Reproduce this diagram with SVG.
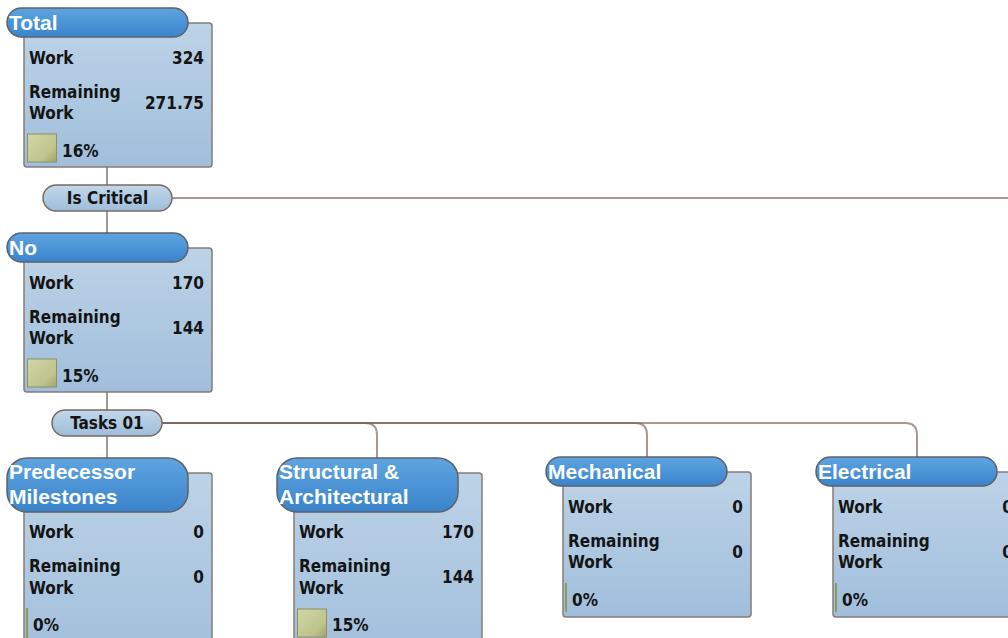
<svg xmlns="http://www.w3.org/2000/svg" width="1008" height="638" viewBox="0 0 1008 638">
<defs>
<linearGradient id="gBody" x1="0" y1="0" x2="0" y2="1">
<stop offset="0" stop-color="#bdd3e7"/>
<stop offset="1" stop-color="#a0bedb"/>
</linearGradient>
<linearGradient id="gHead" x1="0" y1="0" x2="0" y2="1">
<stop offset="0" stop-color="#5ea4e0"/>
<stop offset="1" stop-color="#3a84cc"/>
</linearGradient>
<linearGradient id="gPill" x1="0" y1="0" x2="0" y2="1">
<stop offset="0" stop-color="#c2d7ea"/>
<stop offset="1" stop-color="#9ebdda"/>
</linearGradient>
<linearGradient id="gBar" x1="0" y1="0" x2="1" y2="1">
<stop offset="0" stop-color="#d2d6a6"/>
<stop offset="0.7" stop-color="#bfc48d"/>
<stop offset="1" stop-color="#9ea36c"/>
</linearGradient>
</defs>
<style>
.body{fill:url(#gBody);stroke:#857c78;stroke-width:1.5}
.head{fill:url(#gHead);stroke:#5f6068;stroke-width:1.5}
.pill{fill:url(#gPill);stroke:#776a66;stroke-width:1.5}
.bar{fill:url(#gBar);stroke:#8c9062;stroke-width:1}
.bar0{fill:#8a9a5a}
.h{font-family:"Liberation Sans",Arial,sans-serif;font-weight:bold;font-size:21px;fill:#ffffff}
.t,.v,.c{font-family:"DejaVu Sans Condensed","DejaVu Sans",Verdana,sans-serif;font-stretch:condensed;font-weight:bold;font-size:17px;fill:#141414}
.v{text-anchor:end}
.c{text-anchor:middle}
.ln{fill:none;stroke:#7a6058;stroke-width:2;stroke-opacity:0.65}
</style>

<g id="connectors">
<path class="ln" d="M107,167 V185"/>
<path class="ln" d="M172,198 H1008"/>
<path class="ln" d="M107,211 V233"/>
<path class="ln" d="M107,392 V410"/>
<path class="ln" d="M107,436 V458"/>
<path class="ln" d="M162,423 H365 Q377,423 377,435 V458"/>
<path class="ln" d="M162,423 H635 Q647,423 647,435 V457"/>
<path class="ln" d="M162,423 H905 Q917,423 917,435 V457"/>
</g>

<g id="node-total">
<rect class="body" x="24" y="23" width="188" height="144" rx="3"/>
<rect class="head" x="7" y="8" width="181" height="29" rx="14.5"/>
<text class="h" x="9" y="30">Total</text>
<text class="t" x="29" y="63.5">Work</text>
<text class="v" x="204" y="63.5">324</text>
<text class="t" x="29" y="97.5">Remaining</text>
<text class="t" x="29" y="119">Work</text>
<text class="v" x="204" y="108.5">271.75</text>
<rect class="bar" x="27.5" y="134" width="29" height="28"/>
<text class="t" x="62" y="157">16%</text>
</g>

<g id="group-iscritical">
<rect class="pill" x="43" y="185" width="129" height="26" rx="13"/>
<text class="c" x="107.5" y="204">Is Critical</text>
</g>

<g id="node-no">
<rect class="body" x="24" y="248" width="188" height="144" rx="3"/>
<rect class="head" x="7" y="233" width="181" height="29" rx="14.5"/>
<text class="h" x="9" y="255">No</text>
<text class="t" x="29" y="288.5">Work</text>
<text class="v" x="204" y="288.5">170</text>
<text class="t" x="29" y="322.5">Remaining</text>
<text class="t" x="29" y="344">Work</text>
<text class="v" x="204" y="333.5">144</text>
<rect class="bar" x="27.5" y="359" width="29" height="28"/>
<text class="t" x="62" y="382">15%</text>
</g>

<g id="group-tasks01">
<rect class="pill" x="52" y="410" width="110" height="26" rx="13"/>
<text class="c" x="107" y="429">Tasks 01</text>
</g>

<g id="node-predecessor">
<rect class="body" x="24" y="473" width="188" height="190" rx="3"/>
<rect class="head" x="7" y="458" width="181" height="54" rx="20"/>
<text class="h" x="9" y="478.5">Predecessor</text>
<text class="h" x="9" y="503.5">Milestones</text>
<text class="t" x="29" y="538">Work</text>
<text class="v" x="204" y="538">0</text>
<text class="t" x="29" y="572">Remaining</text>
<text class="t" x="29" y="593.5">Work</text>
<text class="v" x="204" y="583">0</text>
<rect class="bar0" x="26" y="608" width="2" height="30"/>
<text class="t" x="33" y="630.5">0%</text>
</g>

<g id="node-structural">
<rect class="body" x="294" y="473" width="188" height="190" rx="3"/>
<rect class="head" x="277" y="458" width="181" height="54" rx="20"/>
<text class="h" x="279" y="478.5">Structural &amp;</text>
<text class="h" x="279" y="503.5">Architectural</text>
<text class="t" x="299" y="538">Work</text>
<text class="v" x="474" y="538">170</text>
<text class="t" x="299" y="572">Remaining</text>
<text class="t" x="299" y="593.5">Work</text>
<text class="v" x="474" y="583">144</text>
<rect class="bar" x="297.5" y="609" width="29" height="28"/>
<text class="t" x="332" y="630.5">15%</text>
</g>

<g id="node-mechanical">
<rect class="body" x="563" y="472" width="188" height="145" rx="3"/>
<rect class="head" x="546" y="457" width="181" height="29" rx="14.5"/>
<text class="h" x="548" y="479">Mechanical</text>
<text class="t" x="568" y="512.5">Work</text>
<text class="v" x="743" y="512.5">0</text>
<text class="t" x="568" y="546.5">Remaining</text>
<text class="t" x="568" y="568">Work</text>
<text class="v" x="743" y="557.5">0</text>
<rect class="bar0" x="565" y="583" width="2" height="29"/>
<text class="t" x="572" y="606">0%</text>
</g>

<g id="node-electrical">
<rect class="body" x="833" y="472" width="188" height="145" rx="3"/>
<rect class="head" x="816" y="457" width="181" height="29" rx="14.5"/>
<text class="h" x="818" y="479">Electrical</text>
<text class="t" x="838" y="512.5">Work</text>
<text class="v" x="1013" y="512.5">0</text>
<text class="t" x="838" y="546.5">Remaining</text>
<text class="t" x="838" y="568">Work</text>
<text class="v" x="1013" y="557.5">0</text>
<rect class="bar0" x="835" y="583" width="2" height="29"/>
<text class="t" x="842" y="606">0%</text>
</g>
</svg>
